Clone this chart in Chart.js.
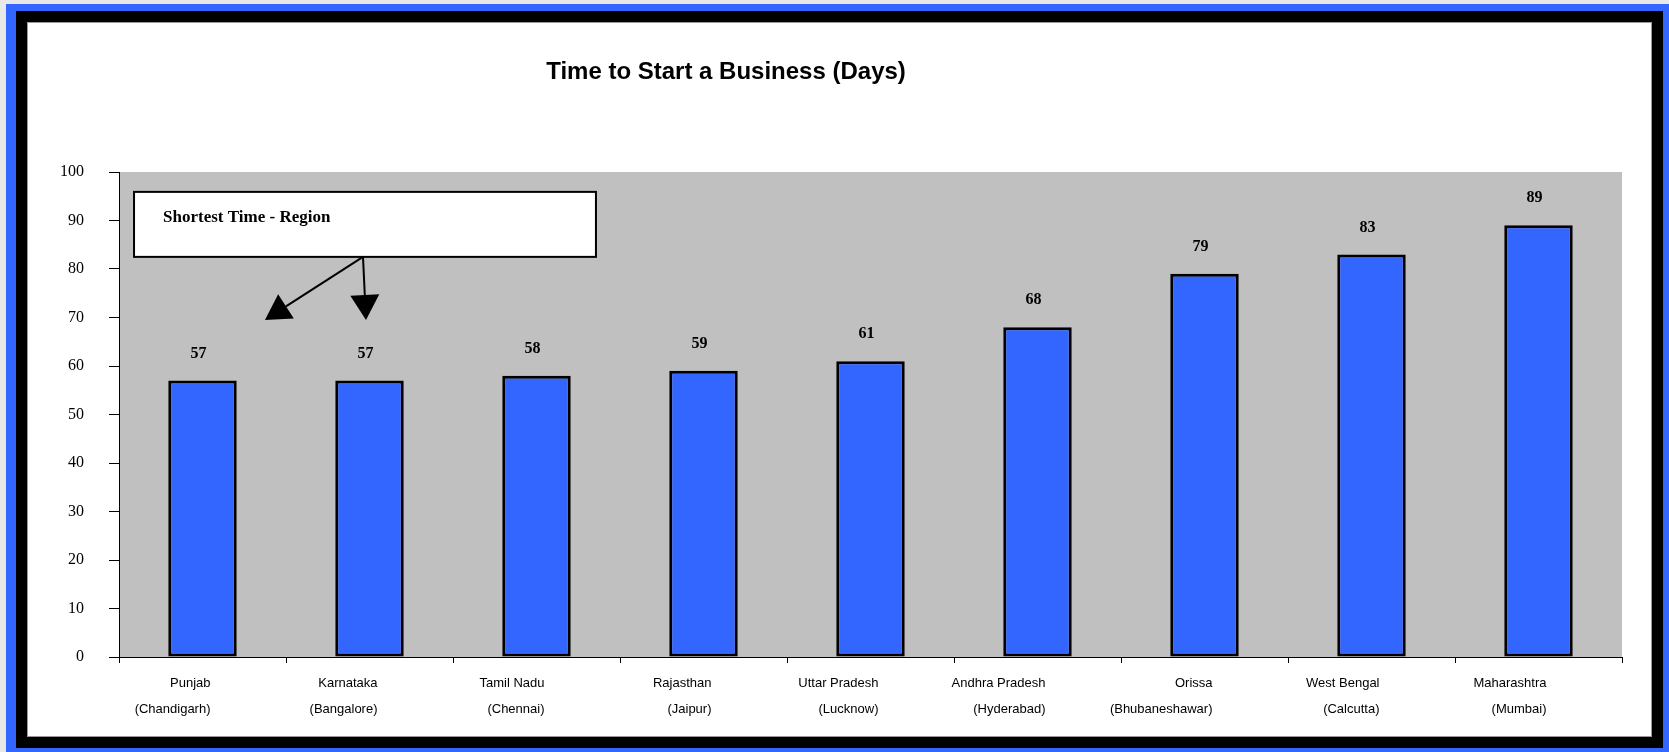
<!DOCTYPE html>
<html>
<head>
<meta charset="utf-8">
<title>Time to Start a Business (Days)</title>
<script src="https://cdn.jsdelivr.net/npm/chart.js@4/dist/chart.umd.min.js"></script>
<style>
    body { margin: 0; background: #e8e8e8; overflow: hidden; }
    #moldura-azul { position: absolute; left: 6px; top: 4px; width: 1663px; height: 748px; background: #3366ff; }
    #moldura-preta { position: absolute; left: 16px; top: 11px; width: 1647px; height: 737px; background: #000; }
    #area-branca { position: absolute; left: 27px; top: 22px; width: 1623px; height: 713px; background: #fff; border: 1px solid #999; }
    #grafico { display: block; }
</style>
</head>
<body>
<div id="moldura-azul"></div>
<div id="moldura-preta"></div>
<div id="area-branca"><canvas id="grafico" width="1623" height="713"></canvas></div>

<script>
// Dados do gráfico
const estados = [
    "Punjab", "Karnataka", "Tamil Nadu", "Rajasthan", "Uttar Pradesh",
    "Andhra Pradesh", "Orissa", "West Bengal", "Maharashtra"
];
const cidades = [
    "(Chandigarh)", "(Bangalore)", "(Chennai)", "(Jaipur)", "(Lucknow)",
    "(Hyderabad)", "(Bhubaneshawar)", "(Calcutta)", "(Mumbai)"
];
const dias = [57, 57, 58, 59, 61, 68, 79, 83, 89];
const ticksY = [0, 10, 20, 30, 40, 50, 60, 70, 80, 90, 100];

const titulo = "Time to Start a Business (Days)";
const textoCaixa = "Shortest Time - Region";

// Caixa e setas em unidades do gráfico (índice da categoria, dias)
const caixa = { x1: -0.41, x2: 2.356, y1: 95.9, y2: 82.5, textoX: -0.236, textoY: 90.5 };
const setaOrigem = { x: 0.961, y: 82.5 };
const setaPontas = [{ x: 0.374, y: 69.5 }, { x: 0.979, y: 69.5 }];

const serif = "'Liberation Serif', 'Times New Roman', serif";
const sans = "'Liberation Sans', Arial, sans-serif";

// Fundo cinza da área do gráfico
const fundoPlot = {
    id: "fundoPlot",
    beforeDraw(chart) {
        const { ctx, chartArea: a } = chart;
        ctx.save();
        ctx.fillStyle = "#c0c0c0";
        ctx.fillRect(a.left, a.top, a.right - a.left, a.bottom - a.top);
        ctx.restore();
    }
};

// Valores acima das barras
const rotulosValores = {
    id: "rotulosValores",
    afterDatasetsDraw(chart) {
        const ctx = chart.ctx;
        ctx.save();
        ctx.font = "bold 16px " + serif;
        ctx.fillStyle = "#000";
        ctx.textAlign = "center";
        ctx.textBaseline = "middle";
        chart.getDatasetMeta(0).data.forEach((barra, i) => {
            ctx.fillText(String(dias[i]), barra.x - 4, barra.y - 27);
        });
        ctx.restore();
    }
};

function desenharSeta(ctx, de, ate) {
    const ang = Math.atan2(ate.y - de.y, ate.x - de.x);
    const comp = 25, meia = 14.5;
    const bx = ate.x - comp * Math.cos(ang);
    const by = ate.y - comp * Math.sin(ang);
    ctx.beginPath();
    ctx.moveTo(de.x, de.y);
    ctx.lineTo(bx, by);
    ctx.stroke();
    ctx.beginPath();
    ctx.moveTo(ate.x, ate.y);
    ctx.lineTo(bx + meia * Math.sin(ang), by - meia * Math.cos(ang));
    ctx.lineTo(bx - meia * Math.sin(ang), by + meia * Math.cos(ang));
    ctx.closePath();
    ctx.fill();
}

// Título, caixa de texto e setas
const anotacoes = {
    id: "anotacoes",
    afterDraw(chart) {
        const { ctx, scales } = chart;
        const px = v => scales.x.getPixelForValue(v);
        const py = v => scales.y.getPixelForValue(v);
        ctx.save();

        ctx.font = "bold 24px " + sans;
        ctx.fillStyle = "#000";
        ctx.textAlign = "center";
        ctx.textBaseline = "middle";
        ctx.fillText(titulo, 698, 49);

        const x1 = px(caixa.x1), x2 = px(caixa.x2), y1 = py(caixa.y1), y2 = py(caixa.y2);
        ctx.fillStyle = "#fff";
        ctx.fillRect(x1, y1, x2 - x1, y2 - y1);
        ctx.strokeStyle = "#000";
        ctx.lineWidth = 2;
        ctx.strokeRect(x1, y1, x2 - x1, y2 - y1);

        ctx.fillStyle = "#000";
        ctx.font = "bold 17px " + serif;
        ctx.textAlign = "left";
        ctx.fillText(textoCaixa, px(caixa.textoX), py(caixa.textoY));

        const origem = { x: px(setaOrigem.x), y: py(setaOrigem.y) };
        setaPontas.forEach(p => {
            desenharSeta(ctx, origem, { x: px(p.x), y: py(p.y) });
        });
        ctx.restore();
    }
};

const contexto = document.getElementById("grafico").getContext("2d");
new Chart(contexto, {
    type: "bar",
    data: {
        labels: estados.map((e, i) => [e, cidades[i]]),
        datasets: [{
            label: "Days",
            data: dias,
            backgroundColor: "#3366ff",
            borderColor: "#000",
            borderWidth: 3,
            borderSkipped: false,
            barPercentage: 0.41,
            categoryPercentage: 1
        }]
    },
    options: {
        responsive: false,
        animation: false,
        devicePixelRatio: 1,
        layout: { padding: { left: 0, top: 149, right: 29, bottom: 0 } },
        plugins: {
            legend: { display: false },
            title: { display: false },
            tooltip: { enabled: false }
        },
        scales: {
            x: {
                offset: true,
                grid: { offset: true, drawOnChartArea: false, tickLength: 6, color: "#000" },
                border: { color: "#000", width: 1 },
                ticks: {
                    autoSkip: false,
                    maxRotation: 0,
                    align: "end",
                    labelOffset: 8,
                    padding: 7,
                    color: "#000",
                    font: { family: sans, size: 13, lineHeight: 2 }
                },
                afterFit: s => { s.height = 79; }
            },
            y: {
                min: 0,
                max: 100,
                afterBuildTicks: s => { s.ticks = ticksY.map(v => ({ value: v })); },
                grid: { drawOnChartArea: false, tickLength: 10, color: "#000" },
                border: { color: "#000", width: 1 },
                ticks: {
                    padding: 25,
                    color: "#000",
                    font: { family: serif, size: 16 }
                },
                afterFit: s => { s.width = 91; }
            }
        }
    },
    plugins: [fundoPlot, rotulosValores, anotacoes]
});
</script>
</body>
</html>
